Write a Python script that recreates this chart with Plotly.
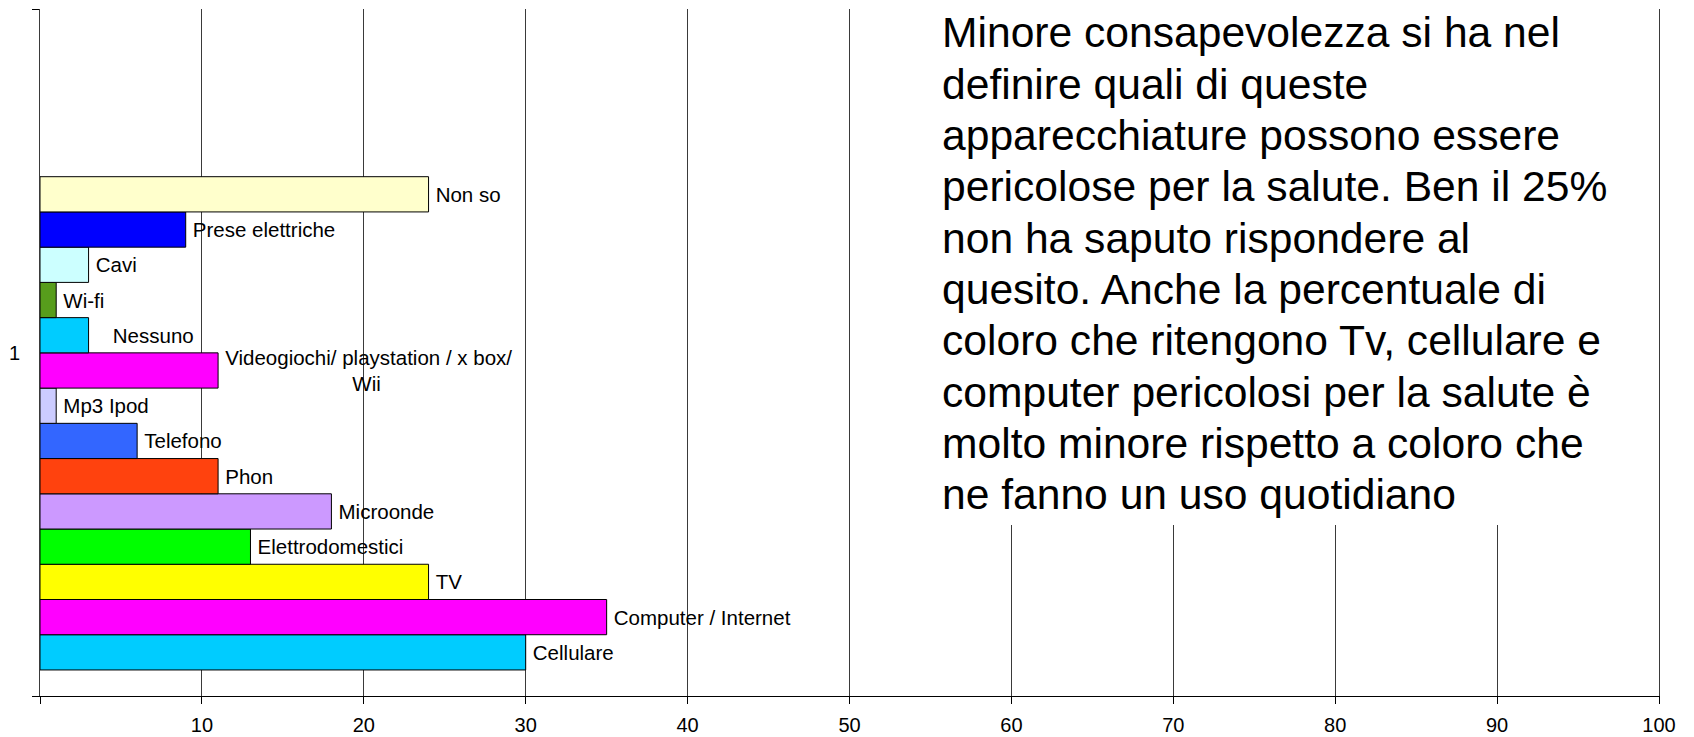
import plotly.graph_objects as go

# series, bottom to top as they appear in the chart
series = [
    "Cellulare", "Computer / Internet", "TV", "Elettrodomestici", "Microonde",
    "Phon", "Telefono", "Mp3 Ipod", "Videogiochi/ playstation / x box/<br>Wii",
    "Nessuno", "Wi-fi", "Cavi", "Prese elettriche", "Non so",
]
values = [30, 35, 24, 13, 18, 11, 6, 1, 11, 3, 1, 3, 9, 24]
colors = [
    "#00CCFF", "#FF00FF", "#FFFF00", "#00FF00", "#CC99FF",
    "#FF420E", "#3366FF", "#CCCCFF", "#FF00FF",
    "#00CCFF", "#579D1C", "#CCFFFF", "#0000FF", "#FFFFCC",
]
category = ["1"]

x_ticks = [0, 10, 20, 30, 40, 50, 60, 70, 80, 90, 100]
x_ticktext = ["", "10", "20", "30", "40", "50", "60", "70", "80", "90", "100"]

note_lines = [
    "Minore consapevolezza si ha nel",
    "definire quali di queste",
    "apparecchiature possono essere",
    "pericolose per la salute. Ben il 25%",
    "non ha saputo rispondere al",
    "quesito. Anche la percentuale di",
    "coloro che ritengono Tv, cellulare e",
    "computer pericolosi per la salute è",
    "molto minore rispetto a coloro che",
    "ne fanno un uso quotidiano",
]

FONT = "Liberation Sans, Arial, sans-serif"

# label moved a little further right in the original
extra_pad = {"Nessuno": "\u00a0\u00a0\u00a0"}

fig = go.Figure()

for name, val, col in zip(series, values, colors):
    fig.add_trace(
        go.Bar(
            x=[val],
            y=category,
            orientation="h",
            name=name,
            marker=dict(color=col, line=dict(color="black", width=1)),
            text=[name],
            texttemplate="\u2009" + extra_pad.get(name, "") + "%{text}",
            textposition="outside",
            constraintext="none",
            cliponaxis=False,
            textfont=dict(family=FONT, size=20.5, color="black"),
        )
    )

# empty helper trace so the left axis (label "1" + boundary ticks) is drawn
fig.add_trace(
    go.Scatter(x=[None], y=[None], yaxis="y2", mode="markers",
               showlegend=False, hoverinfo="skip")
)

# white panel behind the note (hides the gridlines there)
fig.add_shape(
    type="rect",
    xref="paper", yref="paper",
    x0=0.53, x1=0.995, y0=0.249, y1=1,
    fillcolor="white",
    line=dict(width=0),
    layer="above",
)

plot_h = 687
for i, line in enumerate(note_lines):
    mid = 23.5 + 51.3 * i
    fig.add_annotation(
        xref="paper", yref="paper",
        x=0.5557, y=1 - mid / plot_h,
        xanchor="left", yanchor="middle",
        text=line,
        showarrow=False,
        align="left",
        font=dict(family=FONT, size=42.6, color="black"),
    )

# page body has an 8px margin, so the figure is a bit smaller than the window
fig.update_layout(
    width=1686,
    height=729,
    margin=dict(l=32, r=35, t=1, b=41),
    paper_bgcolor="white",
    plot_bgcolor="white",
    showlegend=False,
    barmode="group",
    bargap=0.282,
    bargroupgap=0,
    font=dict(family=FONT, size=20, color="black"),
    xaxis=dict(
        range=[0, 100],
        tickmode="array",
        tickvals=x_ticks,
        ticktext=x_ticktext,
        showgrid=True,
        gridcolor="#3a3a3a",
        gridwidth=1,
        zeroline=False,
        showline=True,
        linecolor="black",
        linewidth=1,
        ticks="outside",
        ticklen=7,
        tickcolor="black",
        ticklabelstandoff=4,
        tickfont=dict(family=FONT, size=20, color="black"),
        automargin=False,
        fixedrange=True,
    ),
    yaxis=dict(
        type="category",
        range=[-0.3969, 0.6031],
        showticklabels=False,
        ticks="",
        showgrid=False,
        zeroline=False,
        showline=False,
        automargin=False,
        fixedrange=True,
    ),
    yaxis2=dict(
        overlaying="y",
        anchor="x",
        side="left",
        range=[0, 1],
        tickmode="array",
        tickvals=[0.5],
        ticktext=["1"],
        ticks="",
        ticklabelstandoff=15,
        minor=dict(tickmode="array", tickvals=[0, 1], ticks="outside",
                   ticklen=7, tickcolor="black"),
        showgrid=False,
        zeroline=False,
        showline=True,
        mirror=True,
        linecolor="#3a3a3a",
        linewidth=1,
        tickfont=dict(family=FONT, size=20, color="black"),
        automargin=False,
        fixedrange=True,
    ),
)

fig.write_html("out.html")
